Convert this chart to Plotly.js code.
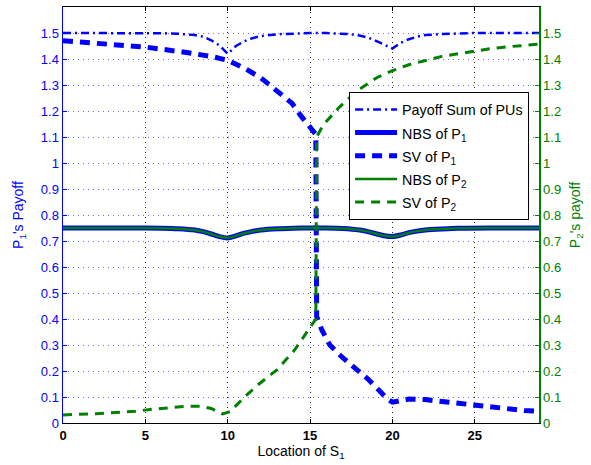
<!DOCTYPE html>
<html>
<head>
<meta charset="utf-8">
<script src="https://cdn.plot.ly/plotly-3.0.1.min.js"></script>
<style>html,body{margin:0;padding:0;background:#fff;}#chart{width:591px;height:465px;}</style>
</head>
<body>
<div id="chart"></div>
<script>
// Payoff Sum of PUs
const sumX = [0,2,4,6,7,8,8.5,9,9.5,10,10.5,11,11.5,12,13,14,15,16,17,17.5,18,18.5,19,19.5,20,20.5,21,21.5,22,23,24,25,27,28.9];
const sumY = [1.5,1.5,1.5,1.499,1.497,1.492,1.486,1.472,1.452,1.42,1.45,1.468,1.48,1.488,1.495,1.498,1.5,1.5,1.498,1.495,1.49,1.483,1.47,1.456,1.44,1.462,1.476,1.486,1.492,1.496,1.498,1.5,1.5,1.5];

// NBS of P1 and P2
const nbsX = [0,2,4,6,7,8,8.5,9,9.5,10,10.5,11,11.5,12,13,14,15,16,17,18,18.5,19,19.5,20,20.5,21,21.5,22,23,24,26,28.9];
const nbs1Y = [0.75,0.75,0.75,0.749,0.747,0.742,0.736,0.727,0.717,0.712,0.72,0.73,0.737,0.742,0.747,0.749,0.75,0.75,0.748,0.742,0.736,0.728,0.72,0.717,0.723,0.732,0.738,0.742,0.746,0.749,0.75,0.75];
const nbs2Y = [0.75,0.75,0.75,0.749,0.747,0.742,0.736,0.727,0.717,0.712,0.72,0.73,0.737,0.742,0.747,0.749,0.75,0.75,0.748,0.742,0.736,0.728,0.72,0.717,0.723,0.732,0.738,0.742,0.746,0.749,0.75,0.75];

// SV of P1
const sv1X = [0,2.5,5,7.5,9,10,11,12,12.4,13,13.9,14.4,15,15.35,15.4,15.7,16.2,17,17.8,18.5,19.2,19.7,20,20.5,21,22,23,24,25,26,27,28,28.9];
const sv1Y = [1.47,1.46,1.446,1.425,1.41,1.395,1.365,1.328,1.308,1.275,1.23,1.185,1.135,1.11,0.41,0.36,0.30,0.25,0.207,0.17,0.125,0.092,0.08,0.088,0.092,0.09,0.083,0.075,0.066,0.06,0.053,0.048,0.045];

// SV of P2
const sv2X = [0,2,4.4,5.4,6.4,7.4,8.4,9,9.4,9.7,10.2,10.4,11.1,11.9,13,13.3,14,14.6,15.1,15.35,15.4,15.8,16.8,17.9,19.1,20,21,22.1,23,24,24.9,26,27,28,28.9];
const sv2Y = [0.031,0.036,0.045,0.053,0.058,0.064,0.064,0.056,0.043,0.035,0.045,0.06,0.105,0.15,0.205,0.226,0.276,0.33,0.38,0.40,1.10,1.147,1.216,1.28,1.33,1.355,1.378,1.396,1.41,1.42,1.43,1.44,1.447,1.452,1.457];

const yTicks = [0,0.1,0.2,0.3,0.4,0.5,0.6,0.7,0.8,0.9,1,1.1,1.2,1.3,1.4,1.5];
const yTickText = ['0','0.1','0.2','0.3','0.4','0.5','0.6','0.7','0.8','0.9','1','1.1','1.2','1.3','1.4','1.5'];
const xTicks = [0,5,10,15,20,25];
const xTickText = ['<b>0</b>','<b>5</b>','<b>10</b>','<b>15</b>','<b>20</b>','<b>25</b>'];

const BLUE = '#0000ff', GREEN = '#008000';
const FONT = 'Liberation Sans, Arial, sans-serif';
const L = s => '<span style="font-size:14.3px">' + s + '</span>';

const traces = [
  {x: sumX, y: sumY, name: L('Payoff Sum of PUs'), mode: 'lines',
   line: {color: BLUE, width: 2.5, dash: '8px,4px,2px,4px'}},
  {x: nbsX, y: nbs1Y, name: L('NBS of P<sub>1</sub>'), mode: 'lines',
   line: {color: BLUE, width: 5, shape: 'spline', smoothing: 0.6}},
  {x: sv1X, y: sv1Y, name: L('SV of P<sub>1</sub>'), mode: 'lines',
   line: {color: BLUE, width: 5, dash: '10px,7px'}},
  {x: nbsX, y: nbs2Y, name: L('NBS of P<sub>2</sub>'), mode: 'lines', yaxis: 'y2',
   line: {color: GREEN, width: 2.5, shape: 'spline', smoothing: 0.6}},
  {x: sv2X, y: sv2Y, name: L('SV of P<sub>2</sub>'), mode: 'lines', yaxis: 'y2',
   line: {color: GREEN, width: 3, dash: '9px,7px'}}
];

const layout = {
  width: 591, height: 465,
  margin: {l: 63, r: 52, t: 7, b: 42},
  paper_bgcolor: '#fff', plot_bgcolor: '#fff',
  font: {family: FONT, size: 13, color: '#000'},
  showlegend: true,
  legend: {x: 0.601, y: 0.796, xanchor: 'left', yanchor: 'top',
    bordercolor: '#000', borderwidth: 1, bgcolor: '#fff', itemwidth: 42,
    entrywidth: 172, entrywidthmode: 'pixels',
    font: {family: FONT, size: 15.5, color: '#000'}},
  xaxis: {range: [0, 28.9], tickvals: xTicks, ticktext: xTickText,
    showline: true, linecolor: '#000', linewidth: 1, mirror: 'ticks',
    ticks: 'inside', ticklen: 4, tickcolor: '#000',
    showgrid: true, gridcolor: '#222', griddash: '1px,4px', gridwidth: 1,
    zeroline: false, tickfont: {family: FONT, size: 13, color: '#000'},
    title: {text: 'Location of S<sub>1</sub>', font: {family: FONT, size: 14, color: '#000'}, standoff: 3}},
  yaxis: {range: [0, 1.6], tickvals: yTicks, ticktext: yTickText,
    showline: true, linecolor: BLUE, linewidth: 1.5,
    ticks: 'inside', ticklen: 4, tickcolor: BLUE,
    showgrid: true, gridcolor: '#6b6bff', griddash: '1px,4px', gridwidth: 1,
    zeroline: false, tickfont: {family: FONT, size: 13, color: BLUE},
    title: {text: "P<sub>1</sub>'s Payoff", font: {family: FONT, size: 14, color: BLUE}, standoff: 14}},
  yaxis2: {range: [0, 1.6], overlaying: 'y', side: 'right',
    tickvals: yTicks, ticktext: yTickText,
    showline: true, linecolor: GREEN, linewidth: 1.5,
    ticks: 'inside', ticklen: 4, tickcolor: GREEN,
    showgrid: false, zeroline: false,
    tickfont: {family: FONT, size: 13, color: GREEN},
    title: {text: "P<sub>2</sub>'s payoff", font: {family: FONT, size: 14, color: GREEN}, standoff: 10}}
};

Plotly.newPlot('chart', traces, layout, {displayModeBar: false, staticPlot: true});
</script>
</body>
</html>
